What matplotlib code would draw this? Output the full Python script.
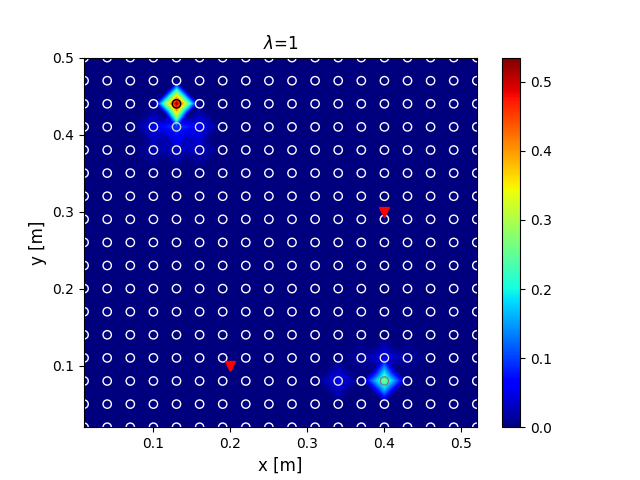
import numpy as np
import matplotlib
matplotlib.use('Agg')
import matplotlib.pyplot as plt
import matplotlib.tri as mtri
from matplotlib.colors import Normalize

# grid nodes (m)
x_nodes = np.round(np.arange(0.01, 0.5201, 0.03), 2)
y_nodes = np.round(np.arange(0.02, 0.5001, 0.03), 2)

# non-zero node values
hot_x = [0.13, 0.13, 0.10, 0.16, 0.13, 0.10, 0.16, 0.40, 0.34, 0.40, 0.37, 0.43]
hot_y = [0.44, 0.41, 0.41, 0.41, 0.38, 0.38, 0.38, 0.08, 0.08, 0.11, 0.11, 0.11]
hot_v = [0.535, 0.10, 0.05, 0.06, 0.03, 0.02, 0.03, 0.27, 0.06, 0.05, 0.015, 0.015]

# source markers
src_x = [0.2, 0.4]
src_y = [0.1, 0.3]

vmax = 0.535

X, Y = np.meshgrid(x_nodes, y_nodes)
Z = np.zeros_like(X)
for hx, hy, hv in zip(hot_x, hot_y, hot_v):
    i = np.argmin(np.abs(y_nodes - hy))
    j = np.argmin(np.abs(x_nodes - hx))
    Z[i, j] = hv

# triangulate: each cell cut in four around its centre
ny, nx = Z.shape
idx = np.arange(ny*nx).reshape(ny, nx)
xc = 0.5*(X[:-1, :-1] + X[1:, 1:])
yc = 0.5*(Y[:-1, :-1] + Y[1:, 1:])
zc = np.minimum.reduce([Z[:-1, :-1], Z[:-1, 1:], Z[1:, :-1], Z[1:, 1:]])
cidx = ny*nx + np.arange((ny-1)*(nx-1)).reshape(ny-1, nx-1)
sw, se = idx[:-1, :-1], idx[:-1, 1:]
nw, ne = idx[1:, :-1], idx[1:, 1:]
tris = np.concatenate([np.stack([sw, se, cidx], -1).reshape(-1, 3),
                       np.stack([se, ne, cidx], -1).reshape(-1, 3),
                       np.stack([ne, nw, cidx], -1).reshape(-1, 3),
                       np.stack([nw, sw, cidx], -1).reshape(-1, 3)])
px = np.concatenate([X.ravel(), xc.ravel()])
py = np.concatenate([Y.ravel(), yc.ravel()])
pz = np.concatenate([Z.ravel(), zc.ravel()])
tri = mtri.Triangulation(px, py, tris)
interp = mtri.LinearTriInterpolator(tri, pz)
xf = np.linspace(x_nodes[0], x_nodes[-1], 600)
yf = np.linspace(y_nodes[0], y_nodes[-1], 600)
XF, YF = np.meshgrid(xf, yf)
ZF = interp(XF, YF)

norm = Normalize(0, vmax)

fig, ax = plt.subplots(figsize=(6.4, 4.8), dpi=100)
im = ax.imshow(ZF, origin='lower', cmap='jet', norm=norm,
               extent=[xf[0], xf[-1], yf[0], yf[-1]])
ax.scatter(X.ravel(), Y.ravel(), s=36, facecolors='none',
           edgecolors=plt.cm.gray_r(norm(Z.ravel())), linewidths=1.0)
ax.plot(src_x, src_y, 'v', color='r', ms=6.5)
ax.set_xlim(x_nodes[0], x_nodes[-1])
ax.set_ylim(y_nodes[0], y_nodes[-1])
ax.set_aspect('equal')
ax.set_xticks([0.1, 0.2, 0.3, 0.4, 0.5])
ax.set_xlabel('x [m]', fontsize=12)
ax.set_ylabel('y [m]', fontsize=12)
ax.set_title(r'$\lambda$=1')
fig.colorbar(im, ax=ax)

fig.savefig('out.png', dpi=100)
